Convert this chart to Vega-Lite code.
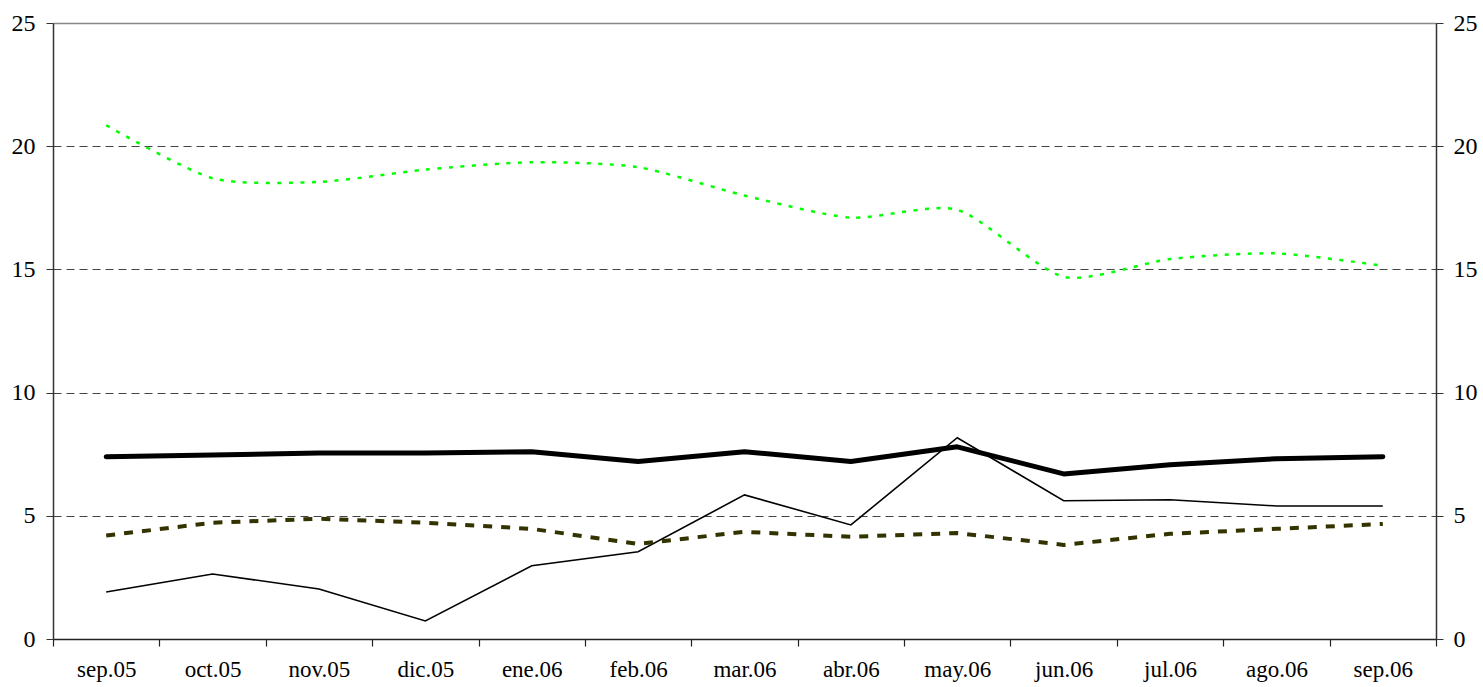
{
  "$schema": "https://vega.github.io/schema/vega-lite/v6.json",
  "width": 1383,
  "height": 616,
  "autosize": {"type": "none"},
  "padding": {"left": 53, "top": 23, "right": 47, "bottom": 48},
  "background": "white",
  "config": {
    "view": {"stroke": null},
    "font": "Liberation Serif",
    "axis": {"labelFont": "Liberation Serif", "labelColor": "black", "title": null}
  },
  "data": {
    "values": [
      {"mes": "sep.05", "serie": "verde", "valor": 20.85},
      {"mes": "oct.05", "serie": "verde", "valor": 18.7},
      {"mes": "nov.05", "serie": "verde", "valor": 18.55},
      {"mes": "dic.05", "serie": "verde", "valor": 19.05},
      {"mes": "ene.06", "serie": "verde", "valor": 19.35},
      {"mes": "feb.06", "serie": "verde", "valor": 19.15},
      {"mes": "mar.06", "serie": "verde", "valor": 18.0},
      {"mes": "abr.06", "serie": "verde", "valor": 17.1},
      {"mes": "may.06", "serie": "verde", "valor": 17.42},
      {"mes": "jun.06", "serie": "verde", "valor": 14.7},
      {"mes": "jul.06", "serie": "verde", "valor": 15.42},
      {"mes": "ago.06", "serie": "verde", "valor": 15.65},
      {"mes": "sep.06", "serie": "verde", "valor": 15.15},
      {"mes": "sep.05", "serie": "gruesa", "valor": 7.4},
      {"mes": "oct.05", "serie": "gruesa", "valor": 7.47},
      {"mes": "nov.05", "serie": "gruesa", "valor": 7.55},
      {"mes": "dic.05", "serie": "gruesa", "valor": 7.55},
      {"mes": "ene.06", "serie": "gruesa", "valor": 7.6},
      {"mes": "feb.06", "serie": "gruesa", "valor": 7.2},
      {"mes": "mar.06", "serie": "gruesa", "valor": 7.6},
      {"mes": "abr.06", "serie": "gruesa", "valor": 7.2},
      {"mes": "may.06", "serie": "gruesa", "valor": 7.8},
      {"mes": "jun.06", "serie": "gruesa", "valor": 6.7},
      {"mes": "jul.06", "serie": "gruesa", "valor": 7.07},
      {"mes": "ago.06", "serie": "gruesa", "valor": 7.32},
      {"mes": "sep.06", "serie": "gruesa", "valor": 7.4},
      {"mes": "sep.05", "serie": "fina", "valor": 1.91},
      {"mes": "oct.05", "serie": "fina", "valor": 2.64},
      {"mes": "nov.05", "serie": "fina", "valor": 2.03},
      {"mes": "dic.05", "serie": "fina", "valor": 0.73},
      {"mes": "ene.06", "serie": "fina", "valor": 2.97},
      {"mes": "feb.06", "serie": "fina", "valor": 3.54},
      {"mes": "mar.06", "serie": "fina", "valor": 5.85},
      {"mes": "abr.06", "serie": "fina", "valor": 4.63},
      {"mes": "may.06", "serie": "fina", "valor": 8.17},
      {"mes": "jun.06", "serie": "fina", "valor": 5.61},
      {"mes": "jul.06", "serie": "fina", "valor": 5.65},
      {"mes": "ago.06", "serie": "fina", "valor": 5.4},
      {"mes": "sep.06", "serie": "fina", "valor": 5.4},
      {"mes": "sep.05", "serie": "oliva", "valor": 4.2},
      {"mes": "oct.05", "serie": "oliva", "valor": 4.72},
      {"mes": "nov.05", "serie": "oliva", "valor": 4.88},
      {"mes": "dic.05", "serie": "oliva", "valor": 4.72},
      {"mes": "ene.06", "serie": "oliva", "valor": 4.47},
      {"mes": "feb.06", "serie": "oliva", "valor": 3.86},
      {"mes": "mar.06", "serie": "oliva", "valor": 4.35},
      {"mes": "abr.06", "serie": "oliva", "valor": 4.15},
      {"mes": "may.06", "serie": "oliva", "valor": 4.3},
      {"mes": "jun.06", "serie": "oliva", "valor": 3.82},
      {"mes": "jul.06", "serie": "oliva", "valor": 4.27},
      {"mes": "ago.06", "serie": "oliva", "valor": 4.47},
      {"mes": "sep.06", "serie": "oliva", "valor": 4.67}
    ]
  },
  "encoding": {
    "x": {
      "field": "mes", "type": "ordinal", "sort": null,
      "scale": {"type": "band", "paddingInner": 0, "paddingOuter": 0},
      "axis": {
        "tickBand": "extent", "labelAngle": 0, "labelFontSize": 23,
        "labelPadding": 12, "tickSize": 7, "tickColor": "#222", "domainColor": "#222",
        "domainWidth": 1.5, "tickWidth": 1.2, "grid": false
      }
    },
    "y": {
      "field": "valor", "type": "quantitative",
      "scale": {"domain": [0, 25], "nice": false, "zero": true}
    }
  },
  "layer": [
    {
      "transform": [{"filter": "datum.serie === 'fina'"}],
      "mark": {"type": "line", "color": "black", "strokeWidth": 1.6},
      "encoding": {
        "y": {
          "field": "valor", "type": "quantitative",
          "scale": {"domain": [0, 25], "nice": false},
          "axis": {
            "orient": "left", "values": [0, 5, 10, 15, 20, 25], "labelFontSize": 24,
            "labelPadding": 11, "tickSize": 7, "tickColor": "#333", "domainColor": "#333",
            "domainWidth": 1.5, "grid": true,
            "gridColor": {"condition": {"test": "datum.value === 25", "value": "#888"}, "value": "#444"},
            "gridDash": {"condition": {"test": "datum.value === 25", "value": []}, "value": [8, 5]},
            "gridWidth": {"condition": {"test": "datum.value === 25", "value": 1.5}, "value": 1}
          }
        }
      }
    },
    {
      "transform": [{"filter": "datum.serie === 'gruesa'"}],
      "mark": {"type": "line", "color": "black", "strokeWidth": 5, "strokeCap": "round", "strokeJoin": "round"},
      "encoding": {
        "y": {
          "field": "valor", "type": "quantitative",
          "scale": {"domain": [0, 25], "nice": false},
          "axis": {
            "orient": "right", "values": [0, 5, 10, 15, 20, 25], "labelFontSize": 24,
            "labelPadding": 10, "tickSize": 7, "tickColor": "#333", "domainColor": "#333",
            "domainWidth": 1.5, "grid": false
          }
        }
      }
    },
    {
      "transform": [{"filter": "datum.serie === 'oliva'"}],
      "mark": {"type": "line", "color": "#333300", "strokeWidth": 4, "strokeDash": [9, 9]},
      "encoding": {
        "y": {"field": "valor", "type": "quantitative", "scale": {"domain": [0, 25], "nice": false}, "axis": null}
      }
    },
    {
      "transform": [{"filter": "datum.serie === 'verde'"}],
      "mark": {"type": "line", "color": "#00ff00", "strokeWidth": 2.5, "strokeDash": [4, 7.5], "interpolate": "cardinal", "tension": 0.3},
      "encoding": {
        "y": {"field": "valor", "type": "quantitative", "scale": {"domain": [0, 25], "nice": false}, "axis": null}
      }
    }
  ],
  "resolve": {"scale": {"y": "shared"}, "axis": {"y": "independent"}}
}
